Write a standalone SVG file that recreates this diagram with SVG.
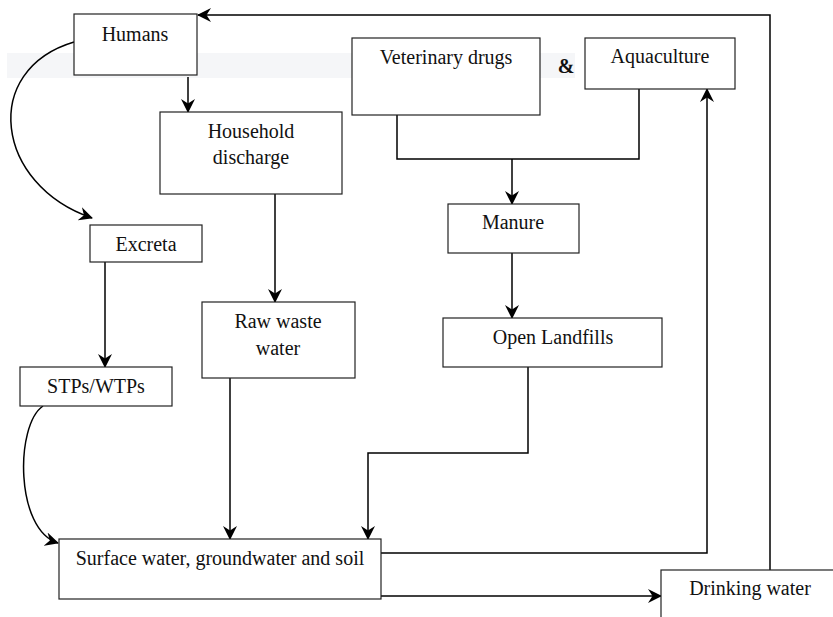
<svg xmlns="http://www.w3.org/2000/svg" width="833" height="617" viewBox="0 0 833 617">
<defs>
<marker id="ah" viewBox="0 0 14 14" refX="13" refY="7" markerWidth="14" markerHeight="14" markerUnits="userSpaceOnUse" orient="auto">
<path d="M0,0 L14,7 L0,14 L4.5,7 Z" fill="#000"/>
</marker>
<style>
.box{fill:#fff;stroke:#222;stroke-width:1.2}
.lbl{font-family:"Liberation Serif","Times New Roman",serif;font-size:20px;fill:#111;text-anchor:middle}
.c{fill:none;stroke:#000;stroke-width:1.5}
.a{marker-end:url(#ah)}
</style>
</defs>
<rect width="833" height="617" fill="#fff"/>
<rect x="7" y="53" width="568" height="25" fill="#f5f6f8"/>

<g id="connectors">
<path class="c a" d="M770,574 L770,15 L198,15"/>
<path class="c a" d="M188,77 L188,112"/>
<path class="c a" d="M74,42 C-20,70 -5,185 92,218"/>
<path class="c a" d="M105,262 L105,367"/>
<path class="c a" d="M43,406 C15,425 15,530 58,543"/>
<path class="c a" d="M275,194 L275,302"/>
<path class="c a" d="M230,378 L230,539"/>
<path class="c" d="M397,115 L397,159 L639,159 L639,89"/>
<path class="c a" d="M512,159 L512,204"/>
<path class="c a" d="M512,253 L512,318"/>
<path class="c a" d="M528,367 L528,453 L368,453 L368,539"/>
<path class="c a" d="M381,553 L707,553 L707,89"/>
<path class="c a" d="M381,596 L661,596"/>
</g>

<g id="humans"><rect class="box" x="74" y="14" width="123" height="61"/><text class="lbl" x="135" y="41">Humans</text></g>
<g id="household"><rect class="box" x="160" y="112" width="182" height="82"/><text class="lbl" x="251" y="138">Household</text><text class="lbl" x="251" y="164">discharge</text></g>
<g id="veterinary"><rect class="box" x="352" y="38" width="188" height="77"/><text class="lbl" x="446" y="64">Veterinary drugs</text></g>
<g id="amp"><text class="lbl" x="566" y="73" style="font-weight:bold">&amp;</text></g>
<g id="aquaculture"><rect class="box" x="585" y="38" width="150" height="51"/><text class="lbl" x="660" y="63">Aquaculture</text></g>
<g id="excreta"><rect class="box" x="90" y="225" width="112" height="37"/><text class="lbl" x="146" y="251">Excreta</text></g>
<g id="stps"><rect class="box" x="20" y="367" width="152" height="39"/><text class="lbl" x="96" y="393">STPs/WTPs</text></g>
<g id="rawwaste"><rect class="box" x="202" y="302" width="153" height="76"/><text class="lbl" x="278" y="328">Raw waste</text><text class="lbl" x="278" y="355">water</text></g>
<g id="manure"><rect class="box" x="448" y="204" width="131" height="49"/><text class="lbl" x="513" y="229">Manure</text></g>
<g id="landfills"><rect class="box" x="443" y="318" width="219" height="49"/><text class="lbl" x="553" y="344">Open Landfills</text></g>
<g id="surface"><rect class="box" x="59" y="539" width="322" height="60"/><text class="lbl" x="220" y="565">Surface water, groundwater and soil</text></g>
<g id="drinking"><rect class="box" x="661" y="570" width="180" height="60"/><text class="lbl" x="750" y="595">Drinking water</text></g>
</svg>
